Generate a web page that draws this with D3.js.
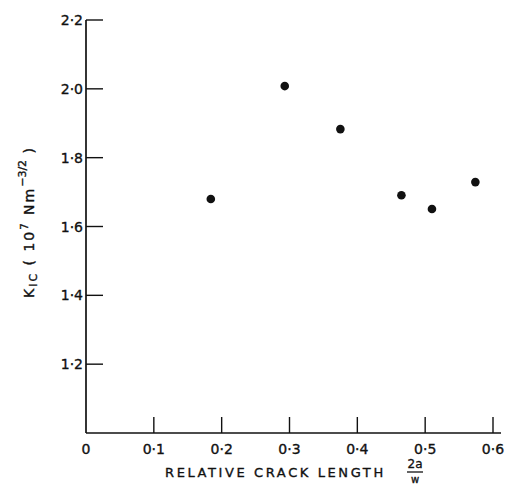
<!DOCTYPE html>
<html>
<head>
<meta charset="utf-8">
<script src="https://cdn.jsdelivr.net/npm/d3@7"></script>
<style>
body { margin: 0; background: #fff; }
text { font-family: "DejaVu Sans", sans-serif; fill: #111; stroke: #111; stroke-width: 0.35px; }
</style>
</head>
<body>
<div id="chart"></div>
<script>
// relative crack length 2a/w vs K_IC
var crackLength = [0.184, 0.293, 0.375, 0.465, 0.510, 0.574];
var kic = [1.680, 2.008, 1.883, 1.691, 1.651, 1.729];
var xTicks = [0, 0.1, 0.2, 0.3, 0.4, 0.5, 0.6];
var xTickLabels = ["0", "0·1", "0·2", "0·3", "0·4", "0·5", "0·6"];
var yTicks = [1.2, 1.4, 1.6, 1.8, 2.0, 2.2];
var yTickLabels = ["1·2", "1·4", "1·6", "1·8", "2·0", "2·2"];

var width = 508, height = 486;

var svg = d3.select("#chart").append("svg")
	.attr("width", width)
	.attr("height", height);

var x = d3.scaleLinear().domain([0, 0.6]).range([86, 493]);
var y = d3.scaleLinear().domain([1.0, 2.2]).range([433, 20]);

var ink = "#111";

// axes lines
svg.append("line")
	.attr("x1", x(0)).attr("x2", x(0))
	.attr("y1", y(2.2)).attr("y2", y(1.0))
	.attr("stroke", ink).attr("stroke-width", 1.7);
svg.append("line")
	.attr("x1", x(0)).attr("x2", x(0.6) + 8)
	.attr("y1", y(1.0)).attr("y2", y(1.0))
	.attr("stroke", ink).attr("stroke-width", 1.7);

// y ticks, pointing inward
svg.selectAll(".ytick")
	.data(yTicks)
	.enter()
	.append("line")
	.attr("x1", x(0))
	.attr("x2", x(0) + 17)
	.attr("y1", function(d) { return y(d); })
	.attr("y2", function(d) { return y(d); })
	.attr("stroke", ink).attr("stroke-width", 1.4);

svg.selectAll(".ylab")
	.data(yTicks)
	.enter()
	.append("text")
	.attr("x", x(0) - 3)
	.attr("y", function(d) { return y(d) + 5; })
	.attr("text-anchor", "end")
	.attr("font-size", "14px")
	.text(function(d, i) { return yTickLabels[i]; });

// x ticks, pointing up (none at 0)
svg.selectAll(".xtick")
	.data(xTicks.slice(1))
	.enter()
	.append("line")
	.attr("x1", function(d) { return x(d); })
	.attr("x2", function(d) { return x(d); })
	.attr("y1", y(1.0))
	.attr("y2", y(1.0) - 16)
	.attr("stroke", ink).attr("stroke-width", 1.4);

svg.selectAll(".xlab")
	.data(xTicks)
	.enter()
	.append("text")
	.attr("x", function(d) { return x(d); })
	.attr("y", 454)
	.attr("text-anchor", "middle")
	.attr("font-size", "14px")
	.text(function(d, i) { return xTickLabels[i]; });

// points
svg.selectAll("circle")
	.data(crackLength)
	.enter()
	.append("circle")
	.attr("cx", function(d) { return x(d); })
	.attr("cy", function(d, i) { return y(kic[i]); })
	.attr("r", 4.3)
	.attr("fill", ink);

// x axis title
svg.append("text")
	.attr("x", 165)
	.attr("y", 477)
	.attr("font-size", "13px")
	.attr("letter-spacing", "2.6px")
	.text("RELATIVE CRACK LENGTH");

var frac = svg.append("g").attr("transform", "translate(415,0)");
frac.append("text")
	.attr("x", 0).attr("y", 468)
	.attr("text-anchor", "middle")
	.attr("font-size", "12px")
	.text("2a");
frac.append("line")
	.attr("x1", -8).attr("x2", 8)
	.attr("y1", 472).attr("y2", 472)
	.attr("stroke", ink).attr("stroke-width", 1.3);
frac.append("text")
	.attr("x", 0).attr("y", 483)
	.attr("text-anchor", "middle")
	.attr("font-size", "10px")
	.text("w");

// y axis title
var yt = svg.append("text")
	.attr("transform", "translate(34,222) rotate(-90)")
	.attr("text-anchor", "middle")
	.attr("font-size", "14px")
	.attr("letter-spacing", "2px");
yt.append("tspan").text("K");
yt.append("tspan").attr("font-size", "11px").attr("dy", 3).text("IC");
yt.append("tspan").attr("dy", -3).text(" ( 10");
yt.append("tspan").attr("font-size", "10px").attr("dy", -6).text("7");
yt.append("tspan").attr("dy", 6).text(" Nm");
yt.append("tspan").attr("font-size", "11px").attr("dy", -8).attr("letter-spacing", "0px").text("−3/2");
yt.append("tspan").attr("dy", 8).text(" )");
</script>
</body>
</html>
